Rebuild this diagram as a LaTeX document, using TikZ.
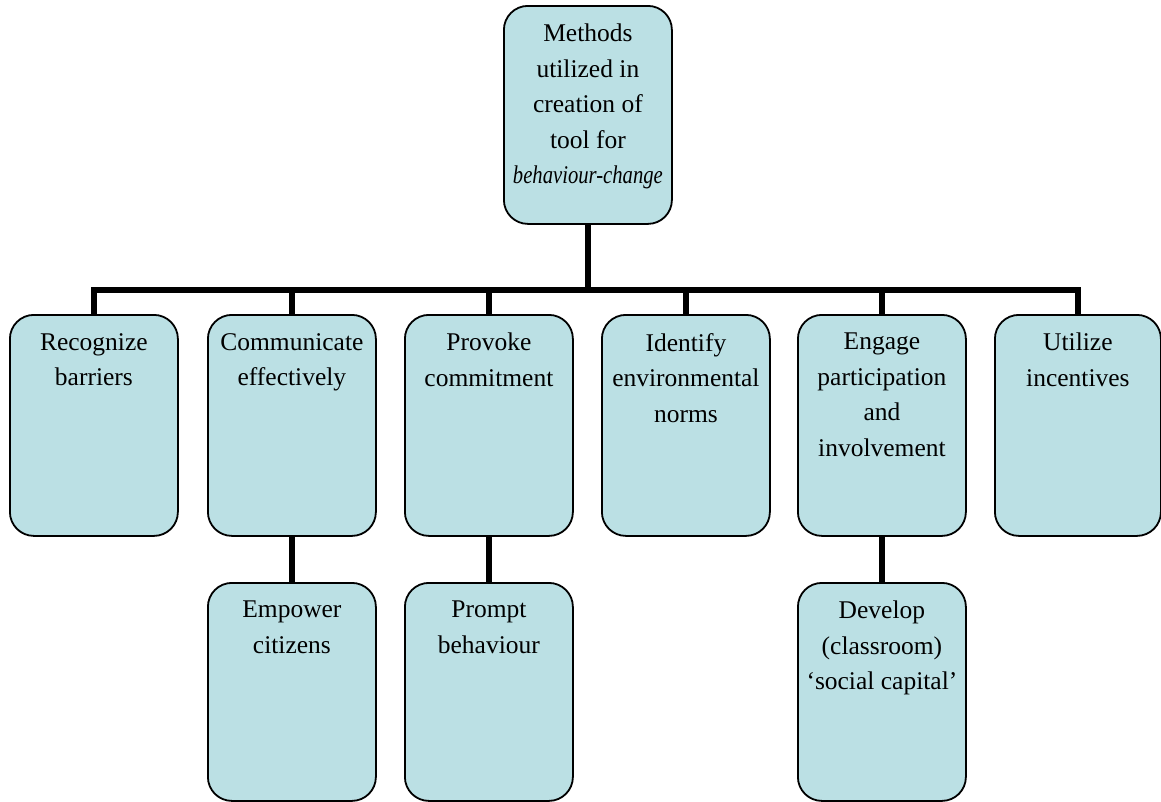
\documentclass[tikz,border=0pt]{standalone}
\usepackage{fontspec}
\usepackage{graphicx}
\setmainfont{Liberation Serif}
\usetikzlibrary{backgrounds}
\definecolor{boxfill}{RGB}{187,224,228}
\begin{document}
\begin{tikzpicture}[x=1pt,y=-1pt,
  box/.style={draw=black, line width=1.8pt, fill=boxfill, rounded corners=24pt,
              minimum width=168pt, inner sep=0pt, anchor=north west},
  txt/.style={align=center, anchor=north, inner sep=0pt, yshift=-19pt,
              font=\fontsize{25.5pt}{35.5pt}\selectfont},
  conn/.style={line width=6.5pt, line cap=butt, line join=miter}]
\useasboundingbox (0,0) rectangle (1161,801);

% root
\node[box, minimum height=218pt, label={[txt]north:Methods\\utilized in\\creation of\\tool for\\\textit{\scalebox{0.81}[1]{behaviour-change}}}] (top) at (503,5) {};

% first level
\node[box, minimum height=221pt, label={[txt]north:Recognize\\barriers}] (b1) at (9,314) {};
\node[box, minimum height=221pt, label={[txt]north:Communicate\\effectively}] (b2) at (207,314) {};
\node[box, minimum height=221pt, label={[txt]north:Provoke\\commitment}] (b3) at (404,314) {};
\node[box, minimum height=221pt, label={[txt]north:Identify\\environmental\\norms}] (b4) at (601,314) {};
\node[box, minimum height=221pt, label={[txt]north:Engage\\participation\\and\\involvement}] (b5) at (797,314) {};
\node[box, minimum height=221pt, minimum width=166pt, label={[txt]north:Utilize\\incentives}] (b6) at (994,314) {};

% second level
\node[box, minimum height=218pt, label={[txt]north:Empower\\citizens}] (c2) at (207,582) {};
\node[box, minimum height=218pt, label={[txt]north:Prompt\\behaviour}] (c3) at (404,582) {};
\node[box, minimum height=218pt, label={[txt]north:Develop\\(classroom)\\`social capital'}] (c5) at (797,582) {};

\coordinate (bar) at (587,290);

\begin{pgfonlayer}{background}
  \draw[conn] (top.south) -- (top.south |- bar);
  \draw[conn] (b1.north) |- (b6.north |- bar) -- (b6.north);
  \foreach \b in {b2,b3,b4,b5} \draw[conn] (\b.north) -- (\b.north |- bar);
  \draw[conn] (b2.south) -- (c2.north);
  \draw[conn] (b3.south) -- (c3.north);
  \draw[conn] (b5.south) -- (c5.north);
\end{pgfonlayer}
\end{tikzpicture}
\end{document}
